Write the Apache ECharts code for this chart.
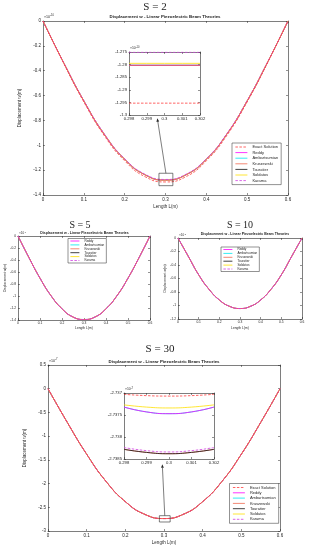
<!DOCTYPE html>
<html><head><meta charset="utf-8">
<script src="https://cdn.jsdelivr.net/npm/echarts@6/dist/echarts.min.js"></script>
<style>html,body{margin:0;padding:0;background:#fff}#c{width:310px;height:550px}</style>
</head><body><div id="c"></div><script>
// ---------- DATA ----------
const xMain = [0, 0.05, 0.1, 0.15, 0.2, 0.25, 0.3, 0.35, 0.4, 0.45, 0.5, 0.55, 0.6];
const xInset = [0.298, 0.299, 0.3, 0.301, 0.302];
const theories = ['Reddy', 'Ambartsumian', 'Kruszewski', 'Touratier', 'Soldatos', 'Karama'];
const legendAll = ['Exact Solution', 'Reddy', 'Ambartsumian', 'Kruszewski', 'Touratier', 'Soldatos', 'Karama'];

// S = 2 (x10^-10)
const s2Exact  = [0, -0.336, -0.651, -0.922, -1.125, -1.253, -1.295, -1.253, -1.125, -0.922, -0.651, -0.336, 0];
const s2Theory = [0, -0.332, -0.643, -0.911, -1.112, -1.238, -1.280, -1.238, -1.112, -0.911, -0.643, -0.332, 0];
const s2Karama = [0, -0.331, -0.641, -0.908, -1.108, -1.233, -1.275, -1.233, -1.108, -0.908, -0.641, -0.331, 0];
const s2InExact    = [-1.2953, -1.2953, -1.2953, -1.2953, -1.2953];
const s2InTheory   = [-1.2803, -1.2803, -1.2803, -1.2803, -1.2803];
const s2InSoldatos = [-1.2795, -1.2795, -1.2795, -1.2795, -1.2795];
const s2InKarama   = [-1.2751, -1.2751, -1.2751, -1.2751, -1.2751];

// S = 5 (x10^-9)
const s5Theory = [0, -0.362, -0.703, -0.995, -1.213, -1.350, -1.392, -1.350, -1.213, -0.995, -0.703, -0.362, 0];
// S = 10 (x10^-8)
const s10Theory = [0, -0.273, -0.545, -0.760, -0.918, -1.013, -1.045, -1.013, -0.918, -0.760, -0.545, -0.273, 0];

// S = 30 (x10^-7)
const s30Exact  = [0, -0.712, -1.380, -1.953, -2.380, -2.647, -2.7371, -2.647, -2.380, -1.953, -1.380, -0.712, 0];
const s30Theory = [0, -0.712, -1.381, -1.954, -2.381, -2.648, -2.7375, -2.648, -2.381, -1.954, -1.381, -0.712, 0];
const s30Karama = [0, -0.712, -1.381, -1.954, -2.381, -2.648, -2.7383, -2.648, -2.381, -1.954, -1.381, -0.712, 0];
const s30InExact     = [-2.73703, -2.73706, -2.73707, -2.73706, -2.73703];
const s30InSoldatos  = [-2.73727, -2.73732, -2.73734, -2.73732, -2.73727];
const s30InReddy     = [-2.73732, -2.73743, -2.73747, -2.73743, -2.73732];
const s30InTouratier = [-2.73828, -2.73835, -2.73838, -2.73835, -2.73828];
const s30InKarama    = [-2.73824, -2.73831, -2.73834, -2.73831, -2.73824];

// ---------- STYLE ----------
const AX = '#262626';
const SANS = 'Liberation Sans, Arial, sans-serif';
const SERIF = 'Liberation Serif, Times New Roman, serif';
const styles = {
  'Exact Solution': { color: '#ff3c3c', type: [2.5, 1.5] },
  'Reddy':          { color: '#ff00ff', type: 'solid' },
  'Ambartsumian':   { color: '#00e8f0', type: 'solid' },
  'Kruszewski':     { color: '#f06a50', type: 'solid' },
  'Touratier':      { color: '#111111', type: 'solid' },
  'Soldatos':       { color: '#ffe000', type: 'solid' },
  'Karama':         { color: '#d040e0', type: [2.5, 1.5] }
};

const grids = [
  { left: 43,  top: 21,  width: 245, height: 174 }, // 0 S=2 main
  { left: 129, top: 52,  width: 71,  height: 63 },  // 1 S=2 inset
  { left: 18,  top: 236, width: 132, height: 84 },  // 2 S=5
  { left: 178, top: 238, width: 124, height: 81 },  // 3 S=10
  { left: 48,  top: 365, width: 232, height: 166 }, // 4 S=30 main
  { left: 124, top: 393, width: 90,  height: 66 }   // 5 S=30 inset
];
const axSpec = [
  { x: [0, 0.6, 0.1], y: [-1.4, 0, 0.2], fs: 4.5, xname: 'Length L(m)', xgap: 9, ygap: 13 },
  { x: [0.298, 0.302, 0.001], y: [-1.3, -1.275, 0.005], fs: 4.2 },
  { x: [0, 0.6, 0.1], y: [-1.4, 0, 0.2], fs: 3.3, xname: 'Length L(m)', xgap: 6.5, ygap: 10 },
  { x: [0, 0.6, 0.1], y: [-1.2, 0, 0.2], fs: 3.3, xname: 'Length L(m)', xgap: 8, ygap: 10 },
  { x: [0, 0.6, 0.1], y: [-3, 0.5, 0.5], fs: 4.5, xname: 'Length L(m)', xgap: 9, ygap: 11 },
  { x: [0.298, 0.302, 0.001], y: [-2.7385, -2.737, 0.0005], fs: 4.2 }
];

const xAxes = [], yAxes = [];
axSpec.forEach((s, i) => {
  const common = () => ({
    axisLine: { show: true, onZero: false, lineStyle: { color: AX, width: 0.6 } },
    axisTick: { show: true, inside: true, length: 2, lineStyle: { color: AX, width: 0.5 } },
    splitLine: { show: false }
  });
  xAxes.push(Object.assign(common(), {
    type: 'value', gridIndex: i, position: 'bottom', min: s.x[0], max: s.x[1], interval: s.x[2],
    axisLabel: { fontSize: s.fs, color: AX, fontFamily: SANS, margin: 2 },
    name: s.xname || '', nameLocation: 'middle', nameGap: s.xgap || 0,
    nameTextStyle: { fontSize: s.fs, color: AX, fontFamily: SANS }
  }));
  xAxes.push(Object.assign(common(), {
    type: 'value', gridIndex: i, position: 'top', min: s.x[0], max: s.x[1], interval: s.x[2],
    axisLabel: { show: false }
  }));
  yAxes.push(Object.assign(common(), {
    type: 'value', gridIndex: i, position: 'left', min: s.y[0], max: s.y[1], interval: s.y[2],
    axisLabel: { fontSize: s.fs, color: AX, fontFamily: SANS, margin: 2 },
    name: s.xname ? 'Displacement w(m)' : '', nameLocation: 'middle', nameGap: s.ygap || 0,
    nameTextStyle: { fontSize: s.fs, color: AX, fontFamily: SANS }
  }));
  yAxes.push(Object.assign(common(), {
    type: 'value', gridIndex: i, position: 'right', min: s.y[0], max: s.y[1], interval: s.y[2],
    axisLabel: { show: false }
  }));
});

const series = [];
function addLine(name, gi, xs, ys, smooth, w) {
  const st = styles[name];
  series.push({
    name: name, type: 'line', xAxisIndex: gi * 2, yAxisIndex: gi * 2, showSymbol: false, symbol: 'none',
    smooth: smooth, animation: false, silent: true,
    lineStyle: { color: st.color, type: st.type, width: w || 0.8 }, itemStyle: { color: st.color },
    data: xs.map((x, k) => [x, ys[k]])
  });
}
// S=2 main
addLine('Touratier', 0, xMain, s2Theory, true, 0.4);
addLine('Ambartsumian', 0, xMain, s2Theory, true, 0.5);
addLine('Reddy', 0, xMain, s2Theory, true, 0.6);
addLine('Soldatos', 0, xMain, s2Theory, true, 0.7);
addLine('Kruszewski', 0, xMain, s2Theory, true, 0.8);
addLine('Karama', 0, xMain, s2Karama, true);
addLine('Exact Solution', 0, xMain, s2Exact, true);
// S=2 inset
addLine('Touratier', 1, xInset, s2InTheory, false);
addLine('Ambartsumian', 1, xInset, s2InTheory, false);
addLine('Reddy', 1, xInset, s2InTheory, false);
addLine('Kruszewski', 1, xInset, s2InTheory, false);
addLine('Soldatos', 1, xInset, s2InSoldatos, false);
addLine('Karama', 1, xInset, s2InKarama, false);
addLine('Exact Solution', 1, xInset, s2InExact, false);
// S=5, S=10
[['Touratier', 0.4], ['Ambartsumian', 0.5], ['Soldatos', 0.6], ['Reddy', 0.7], ['Kruszewski', 0.8], ['Karama', 0.8]].forEach(p => {
  addLine(p[0], 2, xMain, s5Theory, true, p[1]);
  addLine(p[0], 3, xMain, s10Theory, true, p[1]);
});
// S=30 main
addLine('Touratier', 4, xMain, s30Theory, true, 0.4);
addLine('Ambartsumian', 4, xMain, s30Theory, true, 0.5);
addLine('Reddy', 4, xMain, s30Theory, true, 0.6);
addLine('Soldatos', 4, xMain, s30Theory, true, 0.7);
addLine('Kruszewski', 4, xMain, s30Theory, true, 0.8);
addLine('Karama', 4, xMain, s30Karama, true);
addLine('Exact Solution', 4, xMain, s30Exact, true);
// S=30 inset
addLine('Ambartsumian', 5, xInset, s30InReddy, true);
addLine('Reddy', 5, xInset, s30InReddy, true);
addLine('Soldatos', 5, xInset, s30InSoldatos, true);
addLine('Kruszewski', 5, xInset, s30InTouratier, true);
addLine('Touratier', 5, xInset, s30InTouratier, true);
addLine('Karama', 5, xInset, s30InKarama, true);
addLine('Exact Solution', 5, xInset, s30InExact, true);

function mkLegend(data, left, top, ih, gap, fs, iw, pad) {
  return {
    data: data, left: left, top: top, orient: 'vertical', itemWidth: iw, itemHeight: ih, itemGap: gap,
    padding: pad, borderColor: AX, borderWidth: 0.5, backgroundColor: '#fff', borderRadius: 0,
    textStyle: { fontSize: fs, color: AX, fontFamily: SANS },
    itemStyle: { opacity: 0, borderWidth: 0 },
    lineStyle: { width: 0.8 },
    selectedMode: false, z: 10
  };
}

const texts = [
  { t: 'S = 2', x: 155, y: 7, fs: 11, ff: SERIF, fw: 'normal' },
  { t: 'Displacement w - Linear Piezoelectric Beam Theories', x: 165, y: 16.5, fs: 4.4, ff: SANS, fw: 'bold' },
  { t: 'S = 5', x: 80, y: 225.5, fs: 10, ff: SERIF, fw: 'normal' },
  { t: 'Displacement w - Linear Piezoelectric Beam Theories', x: 84.5, y: 233, fs: 3.5, ff: SANS, fw: 'bold' },
  { t: 'S = 10', x: 240, y: 225.5, fs: 10, ff: SERIF, fw: 'normal' },
  { t: 'Displacement w - Linear Piezoelectric Beam Theories', x: 245, y: 234, fs: 3.5, ff: SANS, fw: 'bold' },
  { t: 'S = 30', x: 160, y: 349, fs: 11, ff: SERIF, fw: 'normal' },
  { t: 'Displacement w - Linear Piezoelectric Beam Theories', x: 164, y: 361.5, fs: 4.4, ff: SANS, fw: 'bold' }
];
const exps = [
  { t: '\u00d710', s: '-10', x: 44, y: 19, fs: 3.6 },
  { t: '\u00d710', s: '-10', x: 130, y: 50, fs: 3.4 },
  { t: '\u00d710', s: '-9', x: 19, y: 234.5, fs: 3 },
  { t: '\u00d710', s: '-8', x: 179, y: 236.5, fs: 3 },
  { t: '\u00d710', s: '-7', x: 49, y: 363, fs: 3.6 },
  { t: '\u00d710', s: '-7', x: 125, y: 391, fs: 3.4 }
];

const graphic = [];
texts.forEach(o => graphic.push({ type: 'text', x: o.x, y: o.y, silent: true,
  style: { text: o.t, x: 0, y: 0, align: 'center', verticalAlign: 'middle', fill: '#222', font: o.fw + ' ' + o.fs + 'px ' + o.ff } }));
exps.forEach(o => graphic.push({ type: 'text', x: o.x, y: o.y, silent: true,
  style: { text: '{a|' + o.t + '}{b|' + o.s + '}', verticalAlign: 'bottom', fill: AX,
    rich: { a: { fontSize: o.fs, fontFamily: SANS, fill: AX }, b: { fontSize: o.fs * 0.75, fontFamily: SANS, fill: AX, verticalAlign: 'top', padding: [0, 0, o.fs * 0.5, 0] } } } }));

const chart = echarts.init(document.getElementById('c'), null, { renderer: 'canvas', width: 310, height: 550 });
chart.setOption({
  backgroundColor: '#fff',
  animation: false,
  grid: grids.map(g => Object.assign({ containLabel: false, show: true, backgroundColor: '#fff', borderWidth: 0 }, g)),
  xAxis: xAxes, yAxis: yAxes, series: series,
  legend: [
    mkLegend(legendAll, 232, 143, 4.6, 1.6, 4, 12, [2, 3, 2, 3]),
    mkLegend(theories, 68, 238.5, 3.2, 0.9, 3.1, 9, [1, 2, 1, 2]),
    mkLegend(theories, 221, 247, 3.2, 0.9, 3.1, 9, [1, 2, 1, 2]),
    mkLegend(legendAll, 229.5, 483.5, 4.6, 1.3, 4, 12, [2, 3, 2, 3])
  ],
  graphic: graphic
});

// Zoom rectangles and arrows derived from data coordinates
function zoomMark(gi, x0, x1, y0, y1, tip) {
  const p0 = chart.convertToPixel({ gridIndex: gi }, [x0, y0]);
  const p1 = chart.convertToPixel({ gridIndex: gi }, [x1, y1]);
  const rx = Math.min(p0[0], p1[0]), ry = Math.min(p0[1], p1[1]);
  const rw = Math.abs(p1[0] - p0[0]), rh = Math.abs(p1[1] - p0[1]);
  const sx = rx + rw / 2, sy = ry;
  const ang = Math.atan2(tip[1] - sy, tip[0] - sx);
  const L = 3.5, W = 1.4;
  const bx = tip[0] - L * Math.cos(ang), by = tip[1] - L * Math.sin(ang);
  const nx = -Math.sin(ang) * W, ny = Math.cos(ang) * W;
  return [
    { type: 'rect', shape: { x: rx, y: ry, width: rw, height: rh }, style: { fill: 'none', stroke: AX, lineWidth: 0.6 }, z: 20, silent: true },
    { type: 'line', shape: { x1: sx, y1: sy, x2: bx, y2: by }, style: { stroke: AX, lineWidth: 0.6 }, z: 20, silent: true },
    { type: 'polygon', shape: { points: [[tip[0], tip[1]], [bx + nx, by + ny], [bx - nx, by - ny]] }, style: { fill: AX }, z: 20, silent: true }
  ];
}
const extra = [].concat(
  zoomMark(0, 0.284, 0.318, -1.225, -1.325, [157.3, 118.3]),
  zoomMark(4, 0.288, 0.316, -2.677, -2.81, [162.3, 464.3])
);
chart.setOption({ graphic: graphic.concat(extra) });
</script></body></html>
